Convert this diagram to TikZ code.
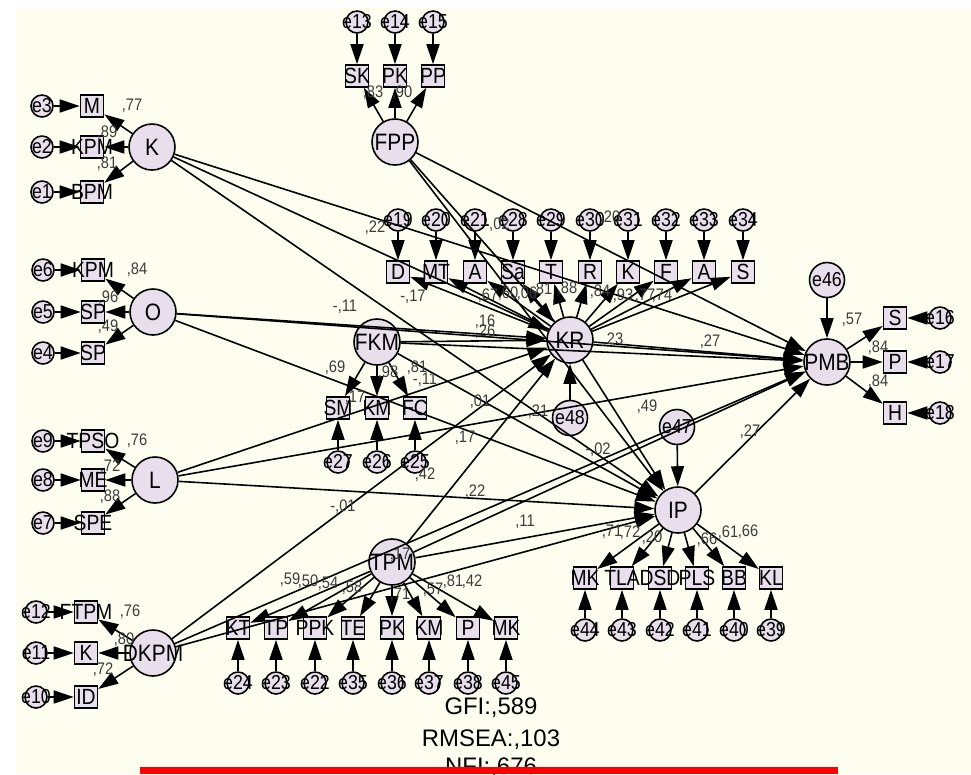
\documentclass[tikz,border=0pt]{standalone}
\usepackage{fontspec}
\setmainfont{Liberation Sans}
\newfontfamily\amosfont{Liberation Sans}[FakeStretch=0.88]
\usetikzlibrary{arrows.meta}

\definecolor{cream}{RGB}{254,254,240}
\definecolor{lav}{RGB}{232,222,236}
\definecolor{coefgray}{RGB}{60,60,60}

\begin{document}
\begin{tikzpicture}[
    x=0.2mm, y=-0.2mm,
    latent/.style={
        circle,
        draw,
        fill=lav,
        line width=0.9pt,
        minimum size=9.2mm,
        inner sep=0pt,
        label={[font=\amosfont\fontsize{13.5}{15}\selectfont, inner sep=0pt]center:#1}
    },
    ind/.style={
        rectangle,
        draw,
        fill=lav,
        line width=0.9pt,
        minimum width=4.6mm,
        minimum height=4.4mm,
        inner sep=0pt,
        label={[font=\amosfont\fontsize{12.5}{14}\selectfont, inner sep=0pt]center:#1}
    },
    err/.style={
        circle,
        draw,
        fill=lav,
        line width=0.9pt,
        minimum size=4.4mm,
        inner sep=0pt,
        label={[font=\amosfont\fontsize{11.5}{13}\selectfont, inner sep=0pt]center:#1}
    },
    bigerr/.style={
        err=#1,
        minimum size=7mm
    },
    arrow/.style={
        -{Triangle[length=4mm, width=2.6mm]},
        line width=0.9pt
    },
    coef/.style={
        font=\amosfont\fontsize{9.5}{11}\selectfont,
        text=coefgray,
        inner sep=0pt
    },
    stat/.style={
        font=\fontsize{13.6}{15}\selectfont,
        inner sep=0pt
    }
]

\useasboundingbox (0,0) rectangle (971,774);
\fill[white] (0,0) rectangle (971,774);
\fill[cream] (16,7) rectangle (971,774);

% Latent variables
\node[latent=K]    (K)    at (152,147) {};
\node[latent=O]    (O)    at (153,312) {};
\node[latent=L]    (L)    at (155,480) {};
\node[latent=DKPM] (DKPM) at (153,653) {};
\node[latent=FPP]  (FPP)  at (395,142) {};
\node[latent=FKM]  (FKM)  at (377,342) {};
\node[latent=TPM]  (TPM)  at (392,562) {};
\node[latent=KR]   (KR)   at (570,340) {};
\node[latent=IP]   (IP)   at (678,510) {};
\node[latent=PMB]  (PMB)  at (827,362) {};

% Disturbances
\node[bigerr=e46] (e46) at (827,280) {};
\node[bigerr=e47] (e47) at (677,427) {};
\node[bigerr=e48] (e48) at (570,418) {};

% Left column indicators (K, O, L, DKPM)
\foreach \lv/\lab/\ee/\xx/\yy [count=\i] in {K/M/3/92/106, K/KPM/2/92/147, K/BPM/1/92/192,
        O/KPM/6/93/270, O/SP/5/93/312, O/SP/4/93/353,
        L/TPSO/9/93/441, L/ME/8/93/480, L/SPE/7/93/523,
        DKPM/FTPM/12/86/612, DKPM/K/11/86/653, DKPM/ID/10/86/697} {
    \node[ind=\lab] (x\i) at (\xx,\yy) {};
    \node[err=e\ee] (e\ee) at ({\xx-50},\yy) {};
    \draw[arrow] (e\ee) -- (x\i);
    \draw[arrow] (\lv) -- (x\i);
}

% FPP indicators
\foreach \lab/\ee/\xx [count=\i] in {SK/13/357, PK/14/395, PP/15/433} {
    \node[ind=\lab] (f\i) at (\xx,76) {};
    \node[err=e\ee] (e\ee) at (\xx,22) {};
    \draw[arrow] (e\ee) -- (f\i);
    \draw[arrow] (FPP) -- (f\i);
}

% FKM indicators
\foreach \lab/\ee/\xx [count=\i] in {SM/27/338, KM/26/377, FC/25/415} {
    \node[ind=\lab] (m\i) at (\xx,408) {};
    \node[err=e\ee] (e\ee) at (\xx,462) {};
    \draw[arrow] (e\ee) -- (m\i);
    \draw[arrow] (FKM) -- (m\i);
}

% KR indicators
\foreach \lab/\ee/\xx [count=\i] in {D/19/398, MT/20/436, A/21/475, Sa/28/513, T/29/551,
        R/30/590, K/31/628, F/32/666, A/33/704, S/34/743} {
    \node[ind=\lab] (r\i) at (\xx,272) {};
    \node[err=e\ee] (e\ee) at (\xx,220) {};
    \draw[arrow] (e\ee) -- (r\i);
    \draw[arrow] (KR) -- (r\i);
}

% TPM indicators
\foreach \lab/\ee/\xx [count=\i] in {KT/24/238, TP/23/276, PPK/22/315, TE/35/353,
        PK/36/392, KM/37/429, P/38/468, MK/45/506} {
    \node[ind=\lab] (t\i) at (\xx,628) {};
    \node[err=e\ee] (e\ee) at (\xx,683) {};
    \draw[arrow] (e\ee) -- (t\i);
    \draw[arrow] (TPM) -- (t\i);
}

% IP indicators
\foreach \lab/\ee/\xx [count=\i] in {MK/44/585, TLA/43/622, DSD/42/660, PLS/41/697, BB/40/734, KL/39/771} {
    \node[ind=\lab] (p\i) at (\xx,578) {};
    \node[err=e\ee] (e\ee) at (\xx,630) {};
    \draw[arrow] (e\ee) -- (p\i);
    \draw[arrow] (IP) -- (p\i);
}

% PMB indicators
\foreach \lab/\ee/\yy [count=\i] in {S/16/318, P/17/362, H/18/413} {
    \node[ind=\lab] (b\i) at (895,\yy) {};
    \node[err=e\ee] (e\ee) at (940,\yy) {};
    \draw[arrow] (e\ee) -- (b\i);
    \draw[arrow] (PMB) -- (b\i);
}

% Structural paths
\foreach \src in {K, O, L, DKPM, FPP, FKM, TPM} {
    \draw[arrow] (\src) -- (KR);
    \draw[arrow] (\src) -- (IP);
    \draw[arrow] (\src) -- (PMB);
}
\draw[arrow] (KR) -- (IP);
\draw[arrow] (KR) -- (PMB);
\draw[arrow] (IP) -- (PMB);
\draw[arrow] (e46) -- (PMB);
\draw[arrow] (e47) -- (IP);
\draw[arrow] (e48) -- (KR);

% Estimates
\foreach \xx/\yy/\t [count=\i] in {
        132/106/{,77}, 107/133/{,89}, 107/164/{,81},
        137/270/{,84}, 108/298/{,96}, 108/327/{,49},
        137/441/{,76}, 110/467/{,72}, 110/497/{,88},
        130/612/{,76}, 124/640/{,80}, 103/670/{,72},
        373/93/{,83}, 402/93/{,90},
        335/368/{,69}, 388/373/{,98}, 417/368/{,81},
        413/297/{-,17}, 488/296/{,67}, 508/294/{,60}, 527/294/{,06}, 542/290/{,81},
        567/289/{,88}, 600/292/{,84}, 623/296/{,93}, 645/296/{,77}, 662/296/{,74},
        375/228/{,22}, 497/225/{-,02}, 610/218/{,20}, 345/307/{-,11}, 485/322/{,16},
        485/332/{,26}, 613/340/{,23}, 710/342/{,27}, 425/380/{-,11}, 355/398/{,17},
        480/402/{,01}, 538/412/{,21}, 647/407/{,49}, 750/432/{,27}, 598/450/{-,02},
        465/438/{,17}, 425/475/{,42}, 475/492/{,22}, 343/507/{-,01}, 525/522/{,11},
        400/555/{,17},
        852/320/{,57}, 878/348/{,84}, 878/382/{,84},
        612/532/{,71}, 630/533/{,72}, 652/538/{,20}, 707/540/{,66}, 728/533/{,61}, 748/532/{,66},
        290/580/{,59}, 308/582/{,50}, 328/584/{,54}, 352/588/{,58}, 400/595/{,71},
        433/590/{,57}, 453/582/{,81}, 472/582/{,42}} {
    \node[coef] (c\i) at (\xx,\yy) {\t};
}

% Fit indices
\node[stat] (gfi)   at (491,708) {GFI:,589};
\node[stat] (rmsea) at (491,740) {RMSEA:,103};
\node[stat] (nfi)   at (491,768) {NFI:,676};

\fill[red] (140,767) rectangle (838,774);

\end{tikzpicture}
\end{document}
